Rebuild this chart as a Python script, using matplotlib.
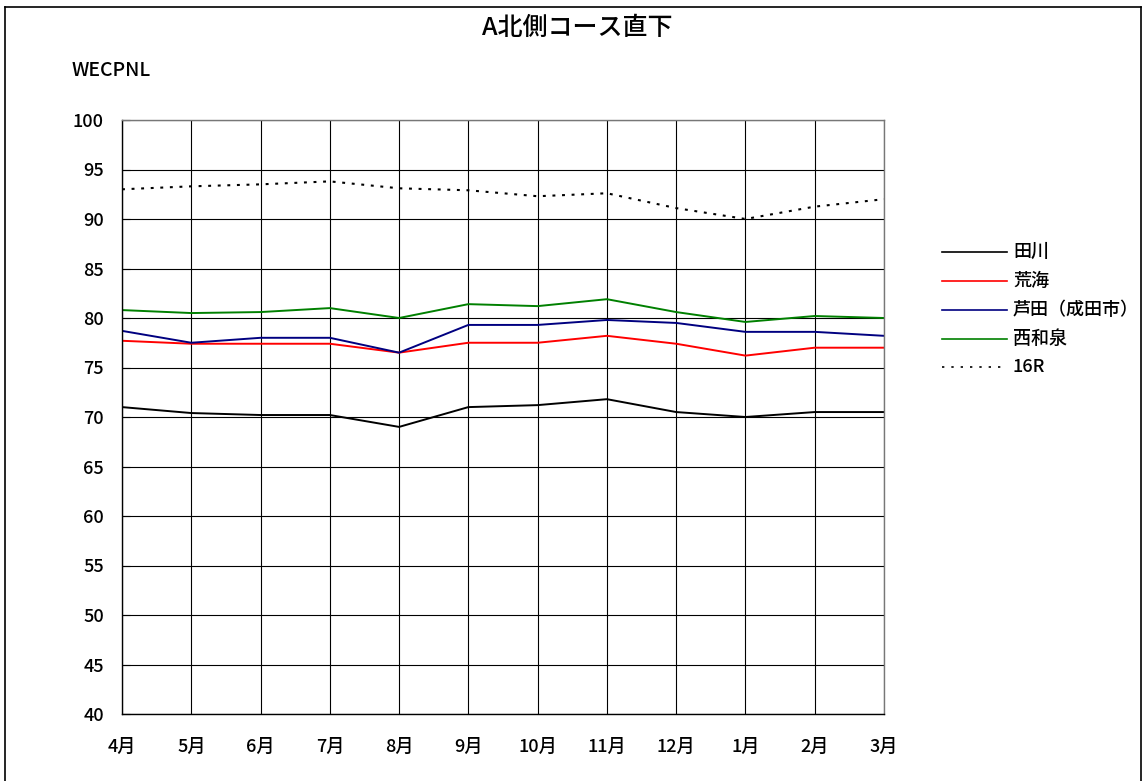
import matplotlib
matplotlib.use("Agg")
import matplotlib.pyplot as plt
from matplotlib.lines import Line2D

plt.rcParams['font.family'] = ['Noto Sans CJK JP', 'DejaVu Sans']
plt.rcParams['font.weight'] = 500

months = ["4月", "5月", "6月", "7月", "8月", "9月", "10月", "11月", "12月", "1月", "2月", "3月"]
tagawa = [71.0, 70.4, 70.2, 70.2, 69.0, 71.0, 71.2, 71.8, 70.5, 70.0, 70.5, 70.5]
arami = [77.7, 77.4, 77.4, 77.4, 76.5, 77.5, 77.5, 78.2, 77.4, 76.2, 77.0, 77.0]
ashida = [78.7, 77.5, 78.0, 78.0, 76.5, 79.3, 79.3, 79.8, 79.5, 78.6, 78.6, 78.2]
nishiwaizumi = [80.8, 80.5, 80.6, 81.0, 80.0, 81.4, 81.2, 81.9, 80.6, 79.6, 80.2, 80.0]
r16 = [93.0, 93.3, 93.5, 93.8, 93.1, 92.9, 92.3, 92.6, 91.1, 90.0, 91.25, 92.0]

series = [
    ("田川", tagawa, "black", "-"),
    ("荒海", arami, "red", "-"),
    ("芦田（成田市）", ashida, "#000080", "-"),
    ("西和泉", nishiwaizumi, "green", "-"),
    ("16R", r16, "black", ":"),
]

W, H = 1145, 781
fig = plt.figure(figsize=(W / 100, H / 100), dpi=100)
ax = fig.add_axes([122 / W, 1 - 714 / H, (884 - 122) / W, (714 - 120) / H])

DOT = (0, (1.4, 3.2))
x = list(range(len(months)))
for name, vals, color, ls in series:
    if ls == ":":
        ax.plot(x, vals, color=color, lw=1.5, linestyle=DOT)
    else:
        ax.plot(x, vals, color=color, lw=1.4)

ax.set_xlim(0, len(months) - 1)
ax.set_ylim(40, 100)
ax.set_yticks(range(40, 101, 5))
ax.set_xticks(x)
ax.set_xticklabels(months, fontsize=13)
ax.tick_params(axis='y', labelsize=13, length=6, direction='in', width=0.8, pad=13)
ax.tick_params(axis='x', length=0, pad=17)
ax.grid(True, color='black', lw=0.8)
for side, s in ax.spines.items():
    s.set_linewidth(1.0)
    s.set_color('black' if side in ('left', 'bottom') else '#777777')

fig.text(577 / W, 1 - 28 / H, "A北側コース直下", ha='center', va='center', fontsize=18)
fig.text(72 / W, 1 - 70 / H, "WECPNL", ha='left', va='center', fontsize=14)

# legend drawn manually in figure coordinates
ys = [252, 281, 310, 339, 367]
for (name, vals, color, ls), yy in zip(series, ys):
    if ls == ":":
        fig.add_artist(Line2D([942 / W, 1007 / W], [1 - yy / H] * 2, color=color, lw=1.2,
                              linestyle=(0, (1.4, 4.2))))
    else:
        fig.add_artist(Line2D([942 / W, 1007 / W], [1 - yy / H] * 2, color=color, lw=1.2))
    fig.text(1013 / W, 1 - yy / H, name, ha='left', va='center', fontsize=13)

# outer frame
fig.add_artist(Line2D([5 / W, 5 / W], [0, 1 - 7 / H], color='black', lw=1.2))
fig.add_artist(Line2D([5 / W, 1141 / W], [1 - 7 / H, 1 - 7 / H], color='black', lw=1.2))
fig.add_artist(Line2D([1141 / W, 1141 / W], [0, 1 - 7 / H], color='black', lw=1.2))

fig.savefig("out.png", dpi=100)
